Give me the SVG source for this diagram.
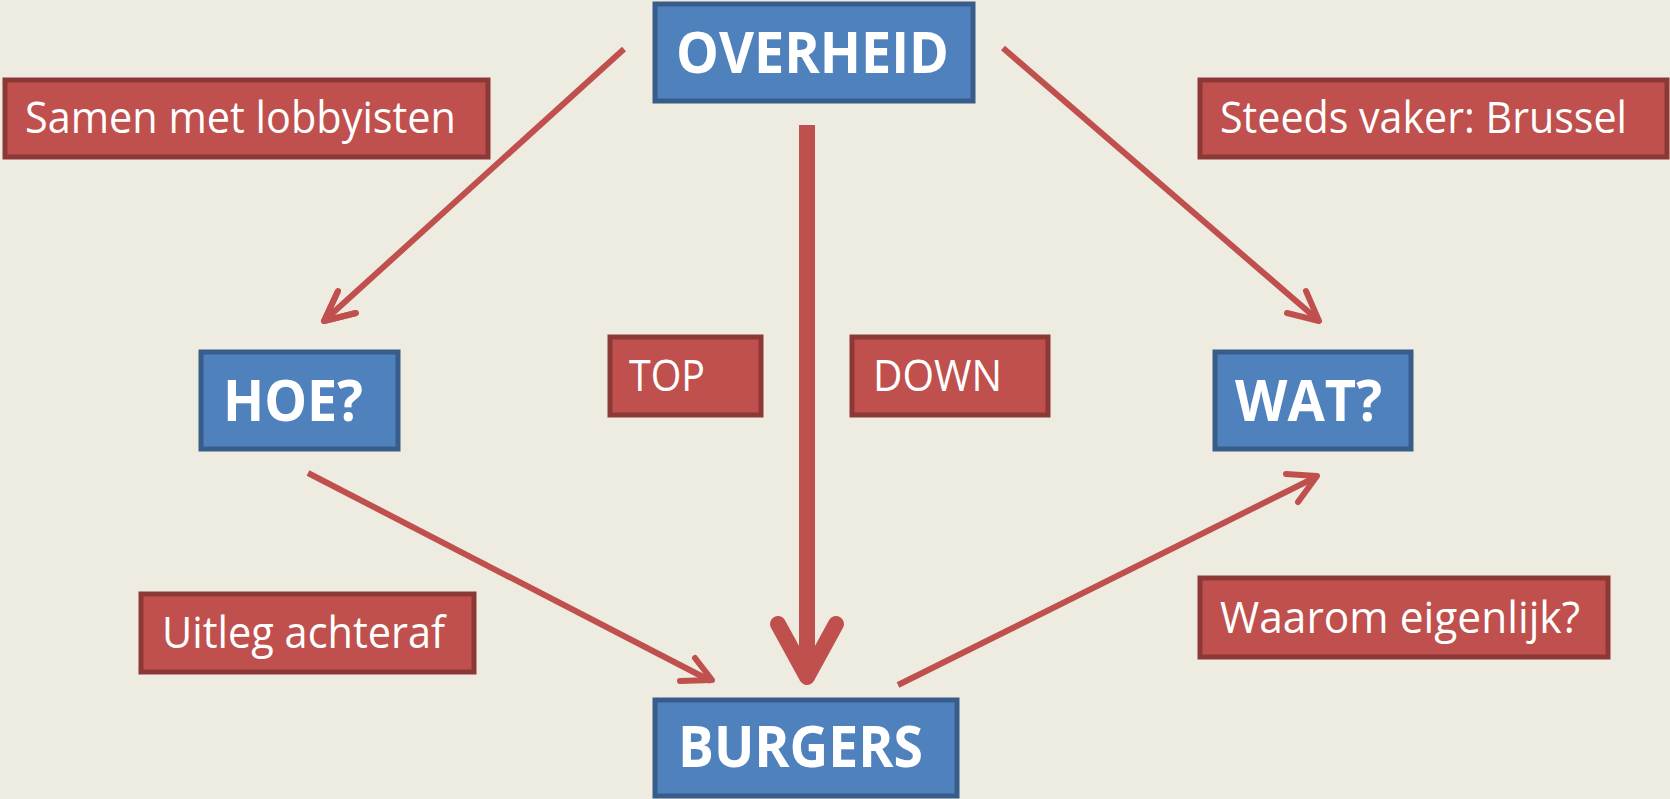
<svg xmlns="http://www.w3.org/2000/svg" width="1670" height="799" viewBox="0 0 1670 799">
<style>
.bg{fill:#EEECE1}
.blue{fill:#4F81BD;stroke:#385D8A;stroke-width:5}
.red{fill:#C0504D;stroke:#8C3836;stroke-width:5}
.bt{font-family:"Open Sans","Liberation Sans",sans-serif;font-weight:bold;font-size:57px;fill:#fff}
.rt{font-family:"Open Sans","Liberation Sans",sans-serif;font-size:43px;fill:#fff}
.c{fill:none;stroke:#C0504D;stroke-width:6;stroke-linecap:round;stroke-linejoin:round}
.cb{fill:none;stroke:#C0504D;stroke-width:16;stroke-linejoin:round}
</style>
<rect class="bg" x="0" y="0" width="1670" height="799"/>
<g id="connectors">
<path class="c" d="M624,49 L325,320 M338,291 L324,321 L356,313" style="stroke-linecap:butt"/>
<path class="c" d="M338,291 L324,321 L356,313"/>
<path class="c" d="M1003,48 L1318,320" style="stroke-linecap:butt"/>
<path class="c" d="M1306,291 L1319,321 L1287,313"/>
<path class="cb" d="M807,125 L807,676"/>
<path class="cb" d="M778,624 L807,677 L836,624" style="stroke-linecap:round"/>
<path class="c" d="M308,473 L711,681" style="stroke-linecap:butt"/>
<path class="c" d="M680,681 L712,680 L695,658"/>
<path class="c" d="M898,685 L1316,477" style="stroke-linecap:butt"/>
<path class="c" d="M1286,474 L1317,476 L1298,502"/>
</g>
<g id="overheid">
<rect class="blue" x="655" y="4" width="318" height="97"/>
<text class="bt" x="676" y="73" textLength="273" lengthAdjust="spacingAndGlyphs">OVERHEID</text>
</g>
<g id="hoe">
<rect class="blue" x="201" y="352" width="197" height="97"/>
<text class="bt" x="223" y="421" textLength="140" lengthAdjust="spacingAndGlyphs">HOE?</text>
</g>
<g id="wat">
<rect class="blue" x="1215" y="352" width="196" height="97"/>
<text class="bt" x="1235" y="421" textLength="147" lengthAdjust="spacingAndGlyphs">WAT?</text>
</g>
<g id="burgers">
<rect class="blue" x="655" y="700" width="302" height="96"/>
<text class="bt" x="678" y="767" textLength="245" lengthAdjust="spacingAndGlyphs">BURGERS</text>
</g>
<g id="samen">
<rect class="red" x="5" y="80" width="483" height="77"/>
<text class="rt" x="25" y="133" textLength="431" lengthAdjust="spacingAndGlyphs">Samen met lobbyisten</text>
</g>
<g id="steeds">
<rect class="red" x="1200" y="80" width="467" height="77"/>
<text class="rt" x="1220" y="133" textLength="407" lengthAdjust="spacingAndGlyphs">Steeds vaker: Brussel</text>
</g>
<g id="top">
<rect class="red" x="610" y="337" width="151" height="78"/>
<text class="rt" x="629" y="391" textLength="76" lengthAdjust="spacingAndGlyphs">TOP</text>
</g>
<g id="down">
<rect class="red" x="852" y="337" width="196" height="78"/>
<text class="rt" x="873" y="391" textLength="129" lengthAdjust="spacingAndGlyphs">DOWN</text>
</g>
<g id="uitleg">
<rect class="red" x="141" y="594" width="333" height="78"/>
<text class="rt" x="162" y="648" textLength="283" lengthAdjust="spacingAndGlyphs">Uitleg achteraf</text>
</g>
<g id="waarom">
<rect class="red" x="1200" y="578" width="408" height="79"/>
<text class="rt" x="1220" y="633" textLength="360" lengthAdjust="spacingAndGlyphs">Waarom eigenlijk?</text>
</g>
</svg>
